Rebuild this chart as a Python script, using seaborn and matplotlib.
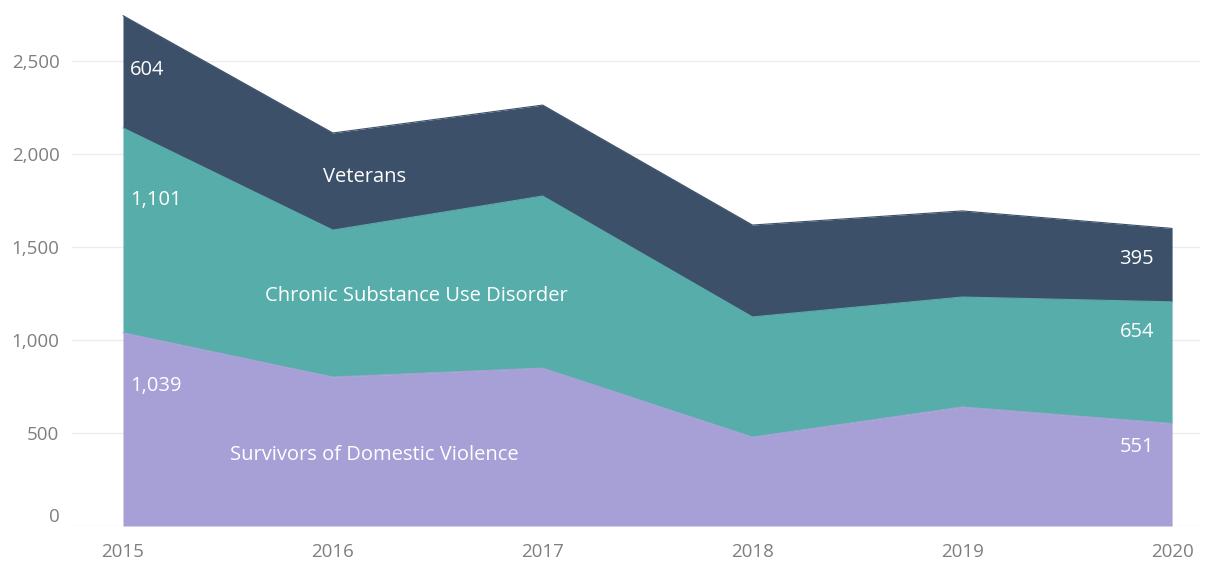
import matplotlib
matplotlib.use("Agg")
import matplotlib.pyplot as plt
import matplotlib.ticker as mticker
import pandas as pd
import seaborn as sns

# data
years = [2015, 2016, 2017, 2018, 2019, 2020]
domestic_violence = [1039, 801, 849, 478, 640, 551]
substance_use = [1101, 790, 925, 646, 591, 654]
veterans = [604, 522, 489, 494, 463, 395]

series_names = ["Survivors of Domestic Violence", "Chronic Substance Use Disorder", "Veterans"]
colors = ["#a6a0d6", "#57adaa", "#3c5069"]

df = pd.DataFrame({
    "year": years,
    series_names[0]: domestic_violence,
    series_names[1]: substance_use,
    series_names[2]: veterans,
})
cum = df[series_names].cumsum(axis=1)

sns.set_theme(style="white")
plt.rcParams["font.family"] = ["Open Sans", "DejaVu Sans"]

fig = plt.figure(figsize=(12.15, 5.63), dpi=100)
ax = fig.add_axes([72 / 1215, 37 / 563, 1128 / 1215, 526 / 563])

ax.stackplot(df["year"], [df[s] for s in series_names], colors=colors, linewidth=0, zorder=2)
# thin edges on top of each layer so the boundaries stay crisp
for s, c in zip(series_names, colors):
    sns.lineplot(x=df["year"], y=cum[s], color=c, linewidth=0.8, ax=ax, zorder=3)

ax.set_xlim(2014.757, 2020.133)
ax.set_ylim(0, 2828)
ax.set_yticks([0, 500, 1000, 1500, 2000, 2500])
ax.yaxis.set_major_formatter(mticker.FuncFormatter(lambda v, p: f"{int(v):,}"))
ax.set_xticks(years)
ax.set_xlabel("")
ax.set_ylabel("")
ax.grid(axis="y", color="#ececec", linewidth=1, zorder=0)
ax.set_axisbelow(True)
for sp in ax.spines.values():
    sp.set_visible(False)
ax.tick_params(axis="y", length=0, pad=9, labelsize=13.5, labelcolor="#7f7f7f")
ax.tick_params(axis="x", length=0, pad=12, labelsize=13.5, labelcolor="#7f7f7f")
ax.get_yticklabels()[0].set_verticalalignment("bottom")

# value labels at first and last year
first_off = [-38, -52, -39]
last_off = [-17, -22, -22]
for i, s in enumerate(series_names):
    ax.annotate(f"{df[s].iloc[0]:,}", xy=(years[0], cum[s].iloc[0]), xytext=(5, first_off[i]),
                textcoords="offset points", ha="left", va="center", color="white", fontsize=14.5, zorder=5)
    ax.annotate(f"{df[s].iloc[-1]:,}", xy=(years[-1], cum[s].iloc[-1]), xytext=(-13, last_off[i]),
                textcoords="offset points", ha="right", va="center", color="white", fontsize=14.5, zorder=5)

# series name labels
ax.text(2016.196, 382, series_names[0], ha="center", va="center", color="white", fontsize=14.5, zorder=5)
ax.text(2016.397, 1237, series_names[1], ha="center", va="center", color="white", fontsize=14.5, zorder=5)
ax.text(2016.149, 1877, series_names[2], ha="center", va="center", color="white", fontsize=14.5, zorder=5)

fig.savefig("out.png", dpi=100)
